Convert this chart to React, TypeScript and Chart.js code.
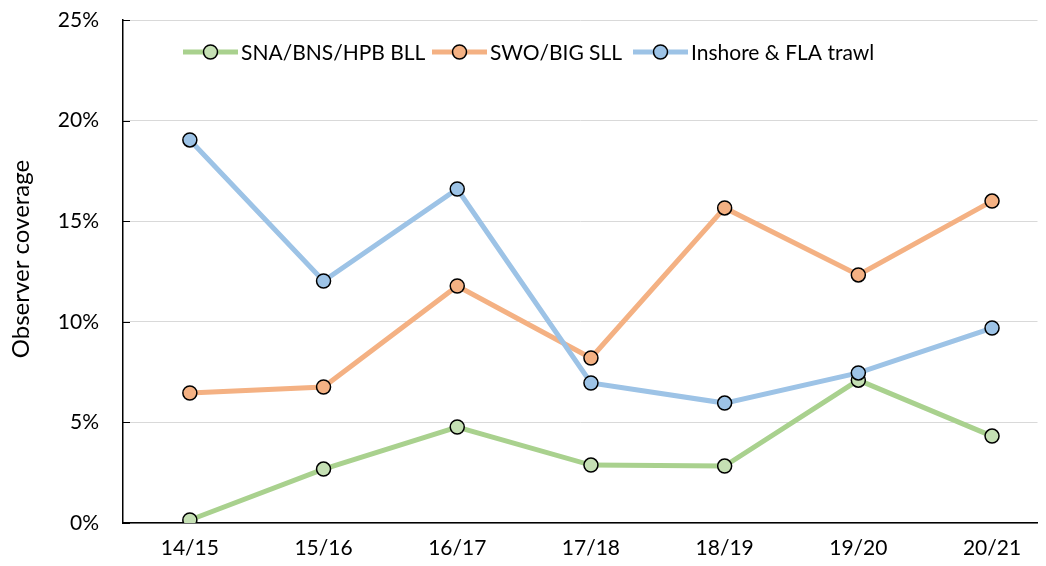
import React, { useEffect, useRef } from "react";
import { Chart, registerables } from "chart.js";

Chart.register(...registerables);

const categories = ["14/15", "15/16", "16/17", "17/18", "18/19", "19/20", "20/21"];
const seriesNames = ["SNA/BNS/HPB BLL", "SWO/BIG SLL", "Inshore & FLA trawl"];
const snaValues = [0.15, 2.68, 4.77, 2.88, 2.83, 7.1, 4.32];
const swoValues = [6.46, 6.76, 11.78, 8.2, 15.66, 12.33, 16.0];
const inshoreValues = [19.04, 12.03, 16.6, 6.96, 5.96, 7.46, 9.69];
const yTicks = [0, 5, 10, 15, 20, 25];
const yTitle = "Observer coverage";

const FONT = "Lato, 'Open Sans', sans-serif";
const lineColors = ["#a9d18e", "#f4b183", "#9dc3e6"];
const fillColors = ["#c5e0b4", "#f4b183", "#9dc3e6"];
const legendStarts = [183, 432, 633];

export default function App() {
  const ref = useRef<HTMLCanvasElement>(null);

  useEffect(() => {
    if (!ref.current) return;
    const allValues = [snaValues, swoValues, inshoreValues];
    const datasets = allValues.map((vals, k) => ({
      label: seriesNames[k],
      data: vals.map((y, i) => ({ x: i, y })),
      borderColor: lineColors[k],
      backgroundColor: fillColors[k],
      borderWidth: 5,
      pointRadius: 7,
      pointHoverRadius: 7,
      pointBorderWidth: 1.5,
      pointBorderColor: "#000",
      pointBackgroundColor: fillColors[k],
      tension: 0,
      order: 3 - k,
    }));

    const legendPlugin = {
      id: "customLegend",
      afterDraw(chart: any) {
        const ctx = chart.ctx;
        ctx.save();
        ctx.font = `21px ${FONT}`;
        ctx.textBaseline = "middle";
        const y = 52;
        seriesNames.forEach((name, k) => {
          const x = legendStarts[k];
          ctx.strokeStyle = lineColors[k];
          ctx.lineWidth = 5;
          ctx.beginPath();
          ctx.moveTo(x, y);
          ctx.lineTo(x + 55, y);
          ctx.stroke();
          ctx.beginPath();
          ctx.arc(x + 27.5, y, 7, 0, Math.PI * 2);
          ctx.fillStyle = fillColors[k];
          ctx.fill();
          ctx.lineWidth = 1.5;
          ctx.strokeStyle = "#000";
          ctx.stroke();
          ctx.fillStyle = "#000";
          ctx.fillText(name, x + 58, y + 1);
        });
        // y axis title
        ctx.save();
        ctx.translate(21, 259);
        ctx.rotate(-Math.PI / 2);
        ctx.textAlign = "center";
        ctx.font = `24px ${FONT}`;
        ctx.fillText(yTitle, 0, 0);
        ctx.restore();
        ctx.restore();
      },
    };

    const tickPlugin = {
      id: "yTickMarks",
      afterDraw(chart: any) {
        const s = chart.scales.y;
        const ctx = chart.ctx;
        ctx.save();
        ctx.strokeStyle = "#000";
        ctx.lineWidth = 1;
        yTicks.forEach((v) => {
          const py = Math.round(s.getPixelForValue(v)) + 0.5;
          ctx.beginPath();
          ctx.moveTo(s.right - 1, py);
          ctx.lineTo(s.right + 7, py);
          ctx.stroke();
        });
        ctx.restore();
      },
    };

    const chart = new Chart(ref.current, {
      type: "line",
      data: { datasets: datasets as any },
      options: {
        animation: false,
        responsive: false,
        layout: { padding: { left: 0, right: 0, top: 20, bottom: 0 } },
        plugins: {
          legend: { display: false },
          tooltip: { enabled: false },
        },
        scales: {
          x: {
            type: "linear",
            min: -0.5,
            max: 6.34,
            grid: { display: false, drawTicks: false },
            border: { display: true, color: "#000", width: 1.5 },
            afterBuildTicks: (scale: any) => {
              scale.ticks = categories.map((_, i) => ({ value: i }));
            },
            afterFit: (scale: any) => {
              scale.height = 43;
            },
            ticks: {
              autoSkip: false,
              maxRotation: 0,
              padding: 13,
              color: "#000",
              font: { family: FONT, size: 21 },
              callback: (v: any) => categories[v] ?? "",
            },
          },
          y: {
            type: "linear",
            min: 0,
            max: 25,
            afterBuildTicks: (scale: any) => {
              scale.ticks = yTicks.map((v) => ({ value: v }));
            },
            afterFit: (scale: any) => {
              scale.width = 123;
              scale.paddingTop = 0;
              scale.paddingBottom = 0;
            },
            grid: { color: "#d9d9d9", lineWidth: 1, drawTicks: false },
            border: { display: true, color: "#000", width: 1.5 },
            ticks: {
              padding: 24,
              color: "#000",
              font: { family: FONT, size: 21 },
              callback: (v: any) => `${v}%`,
            },
            title: { display: false },
          },
        },
      },
      plugins: [legendPlugin, tickPlugin],
    });
    return () => chart.destroy();
  }, []);

  return (
    <div style={{ position: "fixed", left: 0, top: 0, width: 1046, height: 566, background: "#fff" }}>
      <canvas ref={ref} width={1046} height={566} style={{ width: 1046, height: 566 }} />
    </div>
  );
}
